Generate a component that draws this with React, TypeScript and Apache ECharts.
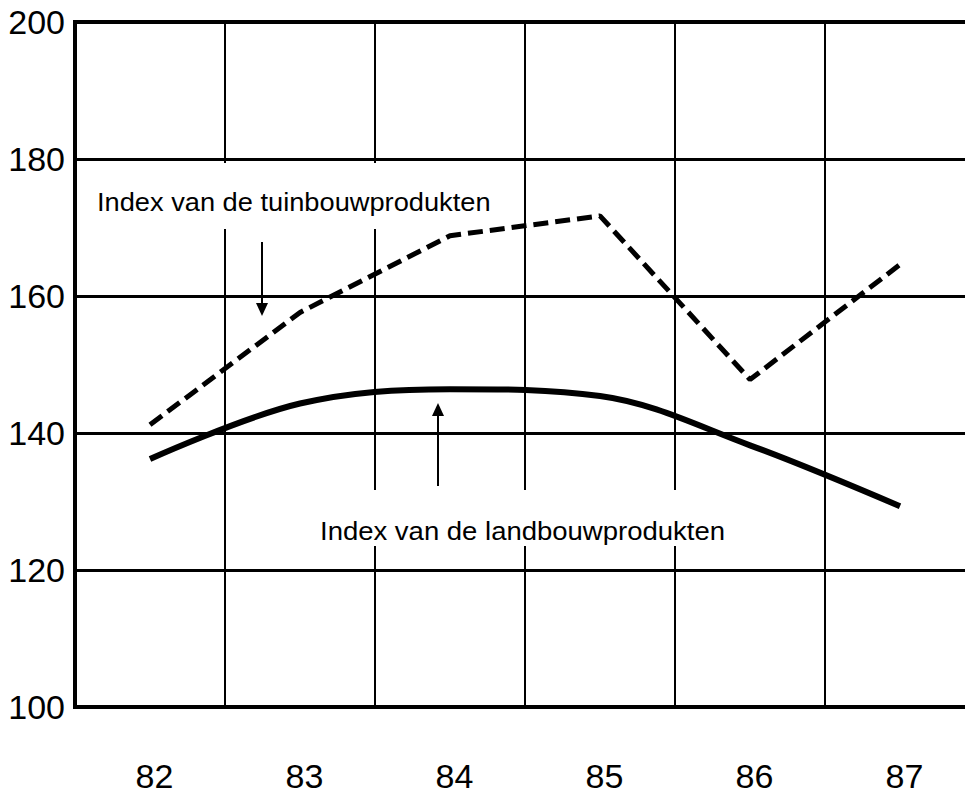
import React, { useEffect, useRef } from "react";
import * as echarts from "echarts";

const years = ["82", "83", "84", "85", "86", "87"];
const tuinbouw = [141.2, 157.6, 168.8, 171.7, 147.8, 164.6];
const landbouw = [136.2, 144.3, 146.4, 145.4, 138.2, 129.3];
const yTicks = { min: 100, max: 200, interval: 20 };
const labelTuinbouw = "Index van de tuinbouwprodukten";
const labelLandbouw = "Index van de landbouwprodukten";

export default function App() {
  const ref = useRef<HTMLDivElement>(null);
  useEffect(() => {
    document.body.style.margin = "0";
    document.body.style.overflow = "hidden";
    const chart = echarts.init(ref.current!, null, { renderer: "svg" });
    const font = "'Liberation Sans', Arial, Helvetica, sans-serif";
    chart.setOption({
      animation: false,
      backgroundColor: "#ffffff",
      grid: {
        left: 75,
        top: 22,
        right: 0,
        bottom: 88,
        show: true,
        borderColor: "#000",
        borderWidth: 4,
        containLabel: false,
      },
      xAxis: {
        type: "category",
        data: years,
        boundaryGap: true,
        axisLine: { lineStyle: { color: "#000", width: 4 } },
        axisTick: { show: false },
        splitLine: { show: true, interval: 0, lineStyle: { color: "#000", width: 2 } },
        axisLabel: {
          color: "#000",
          fontSize: 34,
          fontFamily: font,
          margin: 52,
          interval: 0,
          padding: [0, 0, 0, 9],
        },
      },
      yAxis: {
        type: "value",
        min: yTicks.min,
        max: yTicks.max,
        interval: yTicks.interval,
        axisLine: { show: true, lineStyle: { color: "#000", width: 4 } },
        axisTick: { show: false },
        splitLine: { show: true, lineStyle: { color: "#000", width: 3 } },
        axisLabel: { color: "#000", fontSize: 34, fontFamily: font, margin: 10 },
      },
      graphic: [
        { type: "rect", z: 1, shape: { x: 80, y: 163, width: 432, height: 66 }, style: { fill: "#fff" } },
        { type: "rect", z: 1, shape: { x: 305, y: 490, width: 470, height: 56 }, style: { fill: "#fff" } },
        {
          type: "text",
          z: 5,
          x: 97,
          y: 202,
          scaleX: 1.09,
          style: {
            text: labelTuinbouw,
            font: `25px ${font}`,
            fill: "#000",
            textVerticalAlign: "middle",
          },
        },
        {
          type: "text",
          z: 5,
          x: 320,
          y: 531,
          scaleX: 1.1,
          style: {
            text: labelLandbouw,
            font: `25px ${font}`,
            fill: "#000",
            textVerticalAlign: "middle",
          },
        },
        { type: "line", z: 5, shape: { x1: 262, y1: 242, x2: 262, y2: 305 }, style: { stroke: "#000", lineWidth: 2 } },
        { type: "polygon", z: 5, shape: { points: [[256, 303], [268, 303], [262, 316]] }, style: { fill: "#000" } },
        { type: "line", z: 5, shape: { x1: 438, y1: 486, x2: 438, y2: 414 }, style: { stroke: "#000", lineWidth: 2 } },
        { type: "polygon", z: 5, shape: { points: [[432, 416], [444, 416], [438, 403]] }, style: { fill: "#000" } },
      ],
      series: [
        {
          type: "line",
          name: labelTuinbouw,
          data: tuinbouw,
          symbol: "none",
          smooth: false,
          lineStyle: { color: "#000", width: 5, type: [15, 7], cap: "butt" },
          z: 3,
        },
        {
          type: "line",
          name: labelLandbouw,
          data: landbouw,
          symbol: "none",
          smooth: 0.35,
          lineStyle: { color: "#000", width: 6 },
          z: 3,
        },
      ],
    });
    return () => chart.dispose();
  }, []);
  return <div ref={ref} style={{ width: 975, height: 795 }} />;
}
